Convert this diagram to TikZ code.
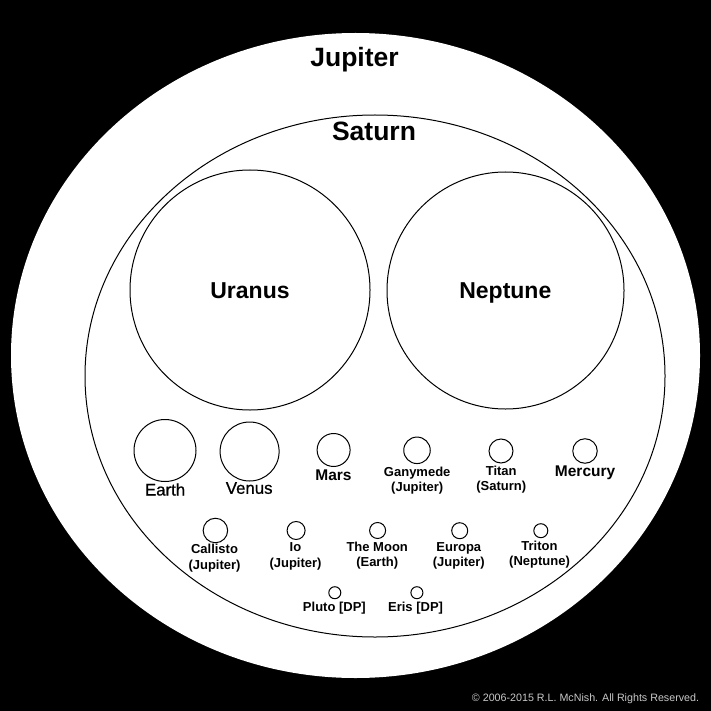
\documentclass[tikz,border=0pt]{standalone}
\usepackage{fontspec}
\setmainfont{Liberation Sans}
\newfontfamily\heavyfont[FakeBold=0.7]{Liberation Sans}
\usetikzlibrary{positioning,shapes.geometric}

\begin{document}
\begin{tikzpicture}[
  x=1pt,y=-1pt,
  giant/.style={ellipse,fill=white,inner sep=0pt,outer sep=0pt},
  body/.style={circle,draw=black,line width=1pt,fill=white,inner sep=0pt,outer sep=0pt,minimum size=#1},
  bigname/.style={anchor=base,inner sep=0pt,font=\fontsize{26.5}{26.5}\selectfont\bfseries},
  midname/.style={anchor=base,inner sep=0pt,font=\fontsize{23}{23}\selectfont\bfseries},
  rockname/.style={anchor=base,inner sep=0pt,font=\fontsize{16.8}{16.8}\selectfont\heavyfont},
  rockbold/.style={anchor=base,inner sep=0pt,font=\fontsize{15.5}{15.5}\selectfont\bfseries},
  moonname/.style={anchor=base,inner sep=0pt,align=center,font=\fontsize{13}{15.5}\selectfont\bfseries},
]

% === Background ===
\fill[black] (0,0) rectangle (711,711);
\useasboundingbox (0,0) rectangle (711,711);

% === Jupiter and Saturn ===
\node[giant,minimum width=689pt,minimum height=645pt] (jupiter) at (355.5,355.5) {};
\node[bigname] (jupitername) at (354.5,66.7) {Jupiter};
\node[giant,draw=black,line width=1pt,minimum width=580pt,minimum height=522pt] (saturn) at (375,376) {};
\node[bigname] (saturnname) at (374,141) {Saturn};

% === Uranus and Neptune ===
\node[body=240pt] (uranus) at (250,290) {};
\node[midname] (uranusname) at (250,298.3) {Uranus};
\node[body=237pt] (neptune) at (505.5,290.5) {};
\node[midname] (neptunename) at (505.3,298.3) {Neptune};

% === First row ===
\node[body=62pt] (earth) at (165,450.5) {};
\node[rockname] (earthname) at (165.1,495.5) {Earth};
\node[body=59pt] (venus) at (249.6,451.5) {};
\node[rockname] (venusname) at (249.2,493.8) {Venus};
\node[body=33pt] (mars) at (333.6,450) {};
\node[rockbold] (marsname) at (333.5,480.3) {Mars};
\node[body=26.5pt] (ganymede) at (417,450.3) {};
\node[moonname] (ganymedename) at (417.2,491.7) {Ganymede\\(Jupiter)};
\node[body=24pt] (titan) at (501,451) {};
\node[moonname] (titanname) at (501.2,490.7) {Titan\\(Saturn)};
\node[body=24.5pt] (mercury) at (585,451) {};
\node[rockbold] (mercuryname) at (585.1,476.7) {Mercury};

% === Second row ===
\node[body=24.5pt] (callisto) at (215.4,530.5) {};
\node[moonname] (callistoname) at (214.5,569.3) {Callisto\\(Jupiter)};
\node[body=18pt] (io) at (296.1,530.5) {};
\node[moonname] (ioname) at (295.5,567.3) {Io\\(Jupiter)};
\node[body=16pt] (moon) at (377.6,530.5) {};
\node[moonname] (moonname) at (377.2,566.7) {The Moon\\(Earth)};
\node[body=16pt] (europa) at (459.7,530.7) {};
\node[moonname] (europaname) at (458.8,566.7) {Europa\\(Jupiter)};
\node[body=14pt] (triton) at (540.8,530.7) {};
\node[moonname] (tritonname) at (539.5,565.7) {Triton\\(Neptune)};

% === Dwarf planets ===
\node[body=12pt] (pluto) at (334.8,592.7) {};
\node[moonname] (plutoname) at (334.4,611.7) {Pluto [DP]};
\node[body=12pt] (eris) at (416.9,592.7) {};
\node[moonname] (erisname) at (415.6,611.7) {Eris [DP]};

% === Copyright ===
\node[anchor=base east,inner sep=0pt,text={rgb,255:red,200;green,200;blue,200},font=\fontsize{10.7}{10.7}\selectfont] (copyright) at (699.3,701.7) {© 2006-2015 R.L. McNish. All Rights Reserved.};

\end{tikzpicture}
\end{document}
